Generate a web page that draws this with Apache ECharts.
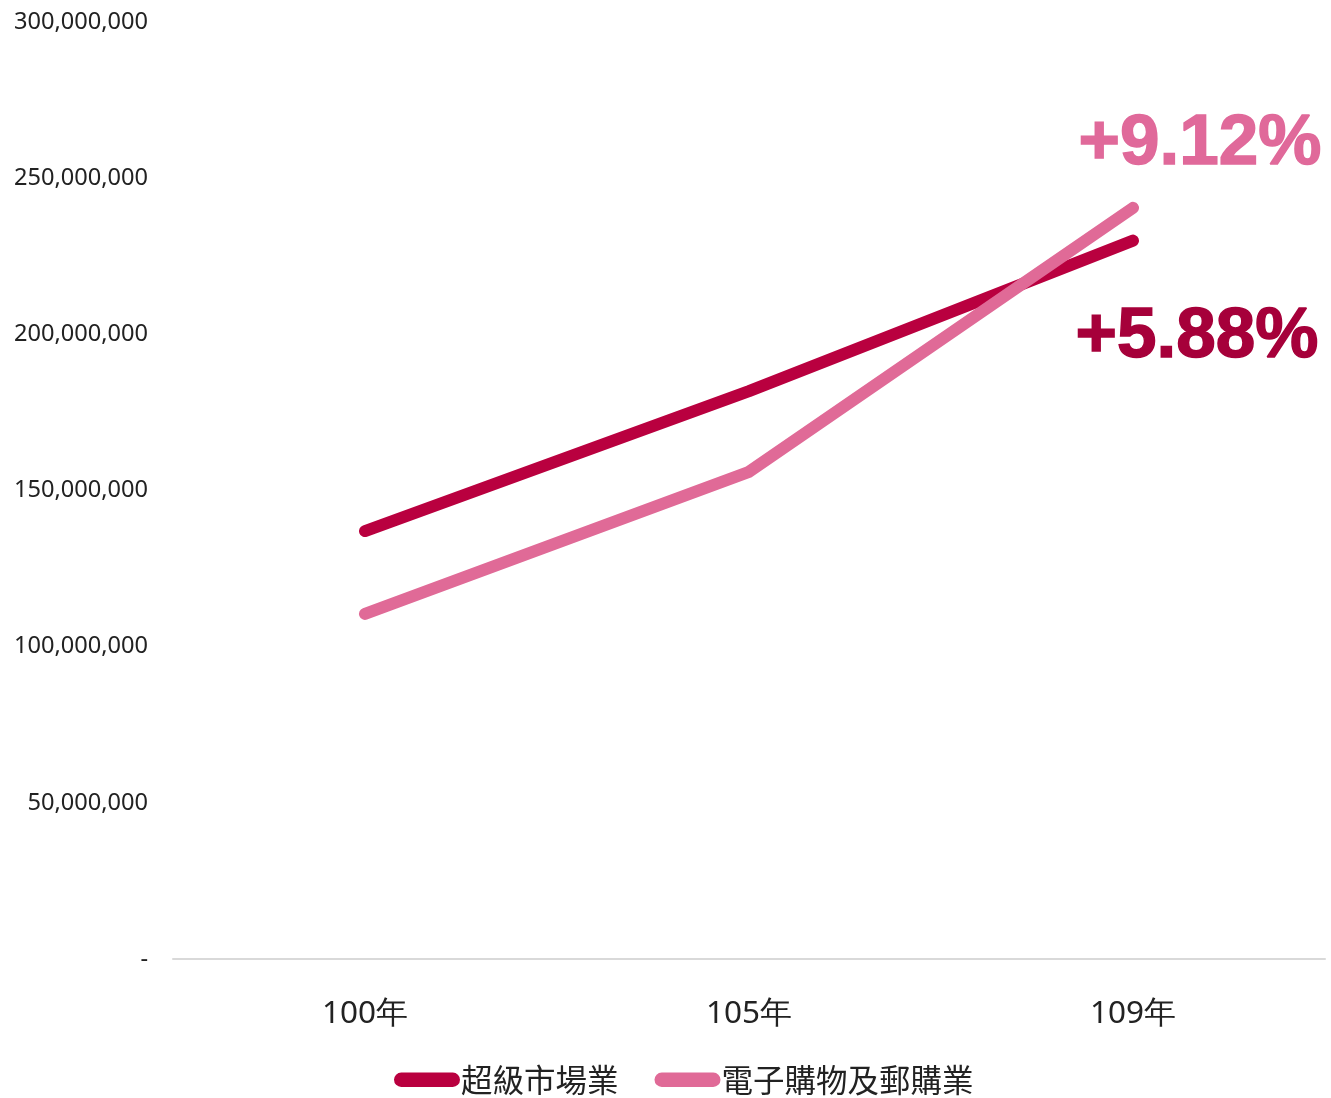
<!DOCTYPE html>
<html><head><meta charset="utf-8">
<script src="https://cdn.jsdelivr.net/npm/echarts@6/dist/echarts.min.js"></script>
<style>html,body{margin:0;padding:0;background:#fff}#c{width:1331px;height:1098px}</style>
</head><body><div id="c"></div>
<script>
const categories = ['100年', '105年', '109年'];
const seriesNames = ['超級市場業', '電子購物及郵購業'];
const supermarket = [137000000, 181800000, 230000000];
const ecommerce = [110500000, 156000000, 240500000];
const growthLabels = ['+5.88%', '+9.12%'];
const yTicks = [0, 50000000, 100000000, 150000000, 200000000, 250000000, 300000000];

const colors = ['#B9003F', '#E06A97'];
const labelColors = ['#A6003A', '#E0699A'];
const pill = 'path://M7,0 H57 A7,7 0 0 1 57,14 H7 A7,7 0 0 1 7,0 Z';

function withLabel(arr, idx, text, offset) {
  return arr.map((v, i) => i === arr.length - 1 ? {
    value: v,
    label: {
      show: true, formatter: text, position: 'inside', offset: offset,
      fontFamily: 'Liberation Sans', fontWeight: 'bold', fontSize: 71,
      color: labelColors[idx], textBorderColor: labelColors[idx], textBorderWidth: 1.5
    }
  } : v);
}

const chart = echarts.init(document.getElementById('c'));
chart.setOption({
  animation: false,
  grid: { left: 173, right: 6, top: 22, bottom: 139, containLabel: false },
  xAxis: {
    type: 'category', data: categories, boundaryGap: true,
    axisLine: { lineStyle: { color: '#d9d9d9', width: 2 } },
    axisTick: { show: false },
    axisLabel: { fontFamily: 'Noto Sans', fontSize: 31.5, color: '#222', margin: 39 }
  },
  yAxis: {
    type: 'value', min: yTicks[0], max: yTicks[yTicks.length - 1], interval: 50000000,
    splitLine: { show: false }, axisLine: { show: false }, axisTick: { show: false },
    axisLabel: {
      fontFamily: 'Noto Sans', fontSize: 23.6, color: '#222', margin: 25, padding: [5, 0, 0, 0],
      formatter: v => v === 0 ? '-' : v.toLocaleString('en-US')
    }
  },
  legend: {
    top: 1059, left: 389, itemWidth: 66, itemHeight: 16, itemGap: 36,
    icon: pill,
    textStyle: { fontFamily: 'Noto Sans CJK TC', fontSize: 31.5, color: '#222', padding: [0, 0, 0, -4] },
    data: seriesNames
  },
  series: [
    {
      name: seriesNames[0], type: 'line', data: withLabel(supermarket, 0, growthLabels[0], [64, 97]),
      symbol: 'circle', symbolSize: 1, showSymbol: true,
      itemStyle: { color: colors[0] },
      lineStyle: { color: colors[0], width: 12, cap: 'round', join: 'round' },
      z: 3
    },
    {
      name: seriesNames[1], type: 'line', data: withLabel(ecommerce, 1, growthLabels[1], [67, -63]),
      symbol: 'circle', symbolSize: 1, showSymbol: true,
      itemStyle: { color: colors[1] },
      lineStyle: { color: colors[1], width: 12, cap: 'round', join: 'round' },
      z: 4
    }
  ]
});
</script></body></html>
